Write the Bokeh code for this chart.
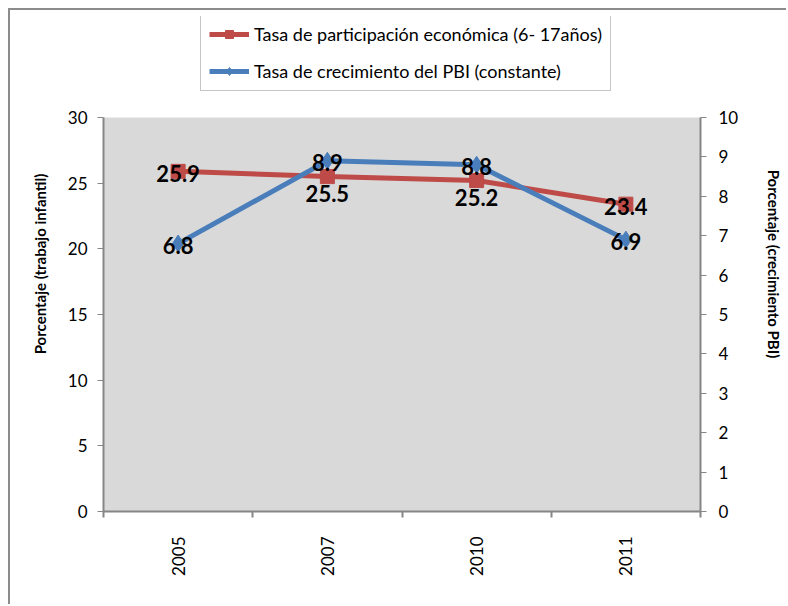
import math
from bokeh.plotting import figure
from bokeh.models import (Range1d, LinearAxis, FixedTicker, Legend, LegendItem,
                          ColumnDataSource, BoxAnnotation)
from bokeh.core.properties import value
from bokeh.embed import file_html
from bokeh.resources import INLINE

years = ["2005", "2007", "2010", "2011"]
participacion = [25.9, 25.5, 25.2, 23.4]
pbi = [6.8, 8.9, 8.8, 6.9]
left_ticks = [0, 5, 10, 15, 20, 25, 30]
right_ticks = [0, 1, 2, 3, 4, 5, 6, 7, 8, 9, 10]

# label placement style: 0 = centred on point, 1 = below point
part_label_place = [0, 1, 1, 0]
pbi_label_place = [0, 0, 0, 0]

FONT = "Lato"
RED = "#be4b48"
BLUE = "#4a7ebb"
GREY = "#868686"

# layout: the grey plot area is 394 px tall; the frame extends above it so
# that the legend (drawn inside the frame) can sit above the grey area
PLOT_H = 394
FRAME_TOP = 16
FRAME_BOTTOM_BORDER = 93
FIG_H = 604
FRAME_H = FIG_H - FRAME_TOP - FRAME_BOTTOM_BORDER
L_MAX, R_MAX = left_ticks[-1], right_ticks[-1]
scale = FRAME_H / PLOT_H

xs = [i + 0.5 for i in range(len(years))]

p = figure(width=786, height=FIG_H, output_backend="svg", toolbar_location=None,
           x_range=Range1d(0, len(years)), y_range=Range1d(0, L_MAX * scale),
           min_border_left=103, min_border_right=82, min_border_top=FRAME_TOP,
           min_border_bottom=FRAME_BOTTOM_BORDER)
# outer chart-area border (left and top edges visible in the reference)
p.border_fill_alpha = 0
p.styles = {"background": ("linear-gradient(#8c8c8c,#8c8c8c) 8px 8px / 2px 100% no-repeat, "
                           "linear-gradient(#8c8c8c,#8c8c8c) 8px 8px / 100% 2px no-repeat, "
                           "white")}
p.extra_y_ranges = {"y2": Range1d(0, R_MAX * scale)}
p.background_fill_alpha = 0
p.outline_line_color = None
p.xgrid.visible = False
p.ygrid.visible = False

p.add_layout(BoxAnnotation(bottom=0, top=L_MAX, fill_color="#d9d9d9", fill_alpha=1,
                           line_color=None, level="underlay"))

# x axis: ticks on category boundaries (minor), labels at centres (major)
xa = p.xaxis[0]
xa.ticker = FixedTicker(ticks=xs, minor_ticks=list(range(len(years) + 1)))
xa.major_label_overrides = {x: y for x, y in zip(xs, years)}
xa.major_label_orientation = math.pi / 2
xa.major_tick_out = 0
xa.major_tick_in = 0
xa.minor_tick_out = 6
xa.minor_tick_in = 0
xa.minor_tick_line_color = GREY
xa.minor_tick_line_width = 2
xa.axis_line_color = GREY
xa.axis_line_width = 2
xa.major_label_standoff = 19
xa.major_label_text_font = FONT
xa.major_label_text_font_size = "17px"
xa.major_label_text_color = "black"

ya = p.yaxis[0]
ya.ticker = FixedTicker(ticks=left_ticks)
ya.bounds = (0, L_MAX)
ya.minor_tick_line_color = None
ya.major_tick_out = 6
ya.major_tick_in = 0
ya.major_tick_line_color = GREY
ya.major_tick_line_width = 1
ya.axis_line_color = GREY
ya.axis_line_width = 2
ya.major_label_standoff = 10
ya.major_label_text_font = FONT
ya.major_label_text_font_size = "17px"
ya.major_label_text_color = "black"
ya.axis_label = "Porcentaje (trabajo infantil)"
ya.axis_label_text_font = FONT
ya.axis_label_text_font_style = "bold"
ya.axis_label_text_font_size = "15px"
ya.axis_label_standoff = 16
ya.axis_label_text_color = "black"

ra = LinearAxis(y_range_name="y2", ticker=FixedTicker(ticks=right_ticks), bounds=(0, R_MAX))
ra.minor_tick_line_color = None
ra.major_tick_out = 6
ra.major_tick_in = 0
ra.major_tick_line_color = GREY
ra.axis_line_color = GREY
ra.axis_line_width = 2
ra.major_label_standoff = 12
ra.major_label_text_font = FONT
ra.major_label_text_font_size = "17px"
ra.major_label_text_color = "black"
ra.axis_label = "Porcentaje (crecimiento PBI)"
ra.axis_label_text_font = FONT
ra.axis_label_text_font_style = "bold"
ra.axis_label_text_font_size = "15px"
ra.axis_label_standoff = 24
ra.axis_label_text_color = "black"
p.add_layout(ra, "right")

src_r = ColumnDataSource(dict(x=xs, y=participacion,
                              lab=[f"{v:.1f}" for v in participacion],
                              off=[2 + 15 * k for k in part_label_place]))
src_b = ColumnDataSource(dict(x=xs, y=pbi,
                              lab=[f"{v:.1f}" for v in pbi],
                              off=[2 + 15 * k for k in pbi_label_place]))

rl = p.line("x", "y", source=src_r, line_color=RED, line_width=5)
rm = p.scatter("x", "y", source=src_r, marker="square", size=14,
               fill_color=RED, line_color=RED)
bl = p.line("x", "y", source=src_b, line_color=BLUE, line_width=5, y_range_name="y2")
bm = p.scatter("x", "y", source=src_b, marker="diamond", size=17,
               fill_color=BLUE, line_color=BLUE, y_range_name="y2")

p.text("x", "y", text="lab", source=src_r, text_font=value(FONT),
       text_font_style="bold", text_font_size="22px", text_align="center",
       text_baseline="middle", y_offset="off", text_color="black")
p.text("x", "y", text="lab", source=src_b, text_font=value(FONT),
       text_font_style="bold", text_font_size="22px", text_align="center",
       text_baseline="middle", y_offset="off", text_color="black",
       y_range_name="y2")

legend = Legend(items=[
    LegendItem(label="Tasa de participación económica (6- 17años)", renderers=[rl, rm]),
    LegendItem(label="Tasa de crecimiento del PBI (constante)", renderers=[bl, bm]),
], location=(97, 420))
legend.label_text_font = FONT
legend.label_text_font_size = "18px"
legend.label_text_color = "black"
legend.glyph_width = 40
legend.glyph_height = 20
legend.label_height = 20
legend.spacing = 15
legend.padding = 8
legend.margin = 0
legend.label_standoff = 5
legend.border_line_color = "#8c8c8c"
legend.border_line_width = 1
legend.background_fill_color = "white"
legend.background_fill_alpha = 1
p.add_layout(legend, "center")

open("out.html", "w").write(file_html(p, INLINE))
